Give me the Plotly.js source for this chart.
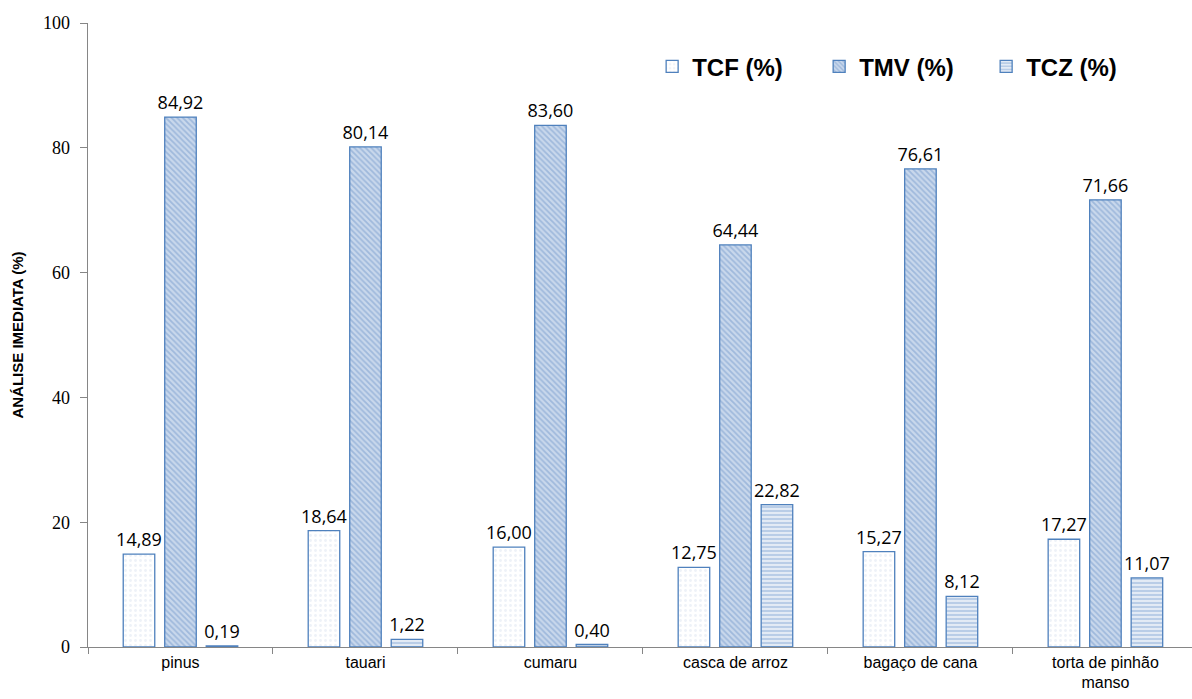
<!DOCTYPE html>
<html>
<head>
<meta charset="utf-8">
<script src="https://cdn.plot.ly/plotly-3.0.1.min.js"></script>
<style>body{margin:0;padding:0;background:#fff;}#chart{width:1192px;height:699px;}</style>
</head>
<body>
<div id="chart"></div>
<script>
const categories = ["pinus", "tauari", "cumaru", "casca de arroz", "bagaço de cana", "torta de pinhão<br>manso"];
const tcf = [14.89, 18.64, 16.00, 12.75, 15.27, 17.27];
const tmv = [84.92, 80.14, 83.60, 64.44, 76.61, 71.66];
const tcz = [0.19, 1.22, 0.40, 22.82, 8.12, 11.07];
const seriesNames = ["TCF (%)", "TMV (%)", "TCZ (%)"];

const border = '#4f81bd';
const labelFont = {family: 'Open Sans, Liberation Sans, sans-serif', size: 18, color: '#000'};

function mk(name, y, pattern, color) {
  return {
    type: 'bar', name: name, x: categories, y: y,
    marker: {color: color, line: {color: border, width: 1.3}, pattern: pattern},
    texttemplate: '%{y:.2f}', textposition: 'outside', textfont: labelFont,
    constraintext: 'none', cliponaxis: false, hoverinfo: 'skip'
  };
}

const data = [
  mk(seriesNames[0], tcf, {shape: '.', bgcolor: '#ffffff', fgcolor: '#eef2f8', size: 5, solidity: 0.25}, '#ffffff'),
  mk(seriesNames[1], tmv, {shape: '\\', bgcolor: '#c9d8ec', fgcolor: '#9fb9dc', size: 4, solidity: 0.45}, '#c9d8ec'),
  mk(seriesNames[2], tcz, {shape: '-', bgcolor: '#b9cde7', fgcolor: '#ffffff', size: 4, solidity: 0.3}, '#b9cde7')
];

const layout = {
  width: 1192, height: 699,
  margin: {l: 88, r: 0, t: 23, b: 52, autoexpand: false},
  paper_bgcolor: '#fff', plot_bgcolor: '#fff',
  separators: ',.',
  barmode: 'group', bargap: 0.327, bargroupgap: 0.24,
  showlegend: true,
  legend: {
    orientation: 'h', x: 0.511, y: 0.93, xanchor: 'left', yanchor: 'middle',
    font: {family: 'Liberation Sans, Arial, sans-serif', size: 24, color: '#000', weight: 'bold'},
    entrywidth: 122, entrywidthmode: 'pixels', itemwidth: 30, tracegroupgap: 0, bgcolor: 'rgba(0,0,0,0)'
  },
  xaxis: {
    type: 'category', range: [-0.5, 5.468],
    showline: true, linecolor: '#868686', linewidth: 1.3,
    ticks: 'outside', tickson: 'boundaries', ticklen: 6, tickcolor: '#868686',
    tickfont: {family: 'Liberation Sans, Arial, sans-serif', size: 16, color: '#000'},
    showgrid: false, zeroline: false, fixedrange: true, automargin: false
  },
  yaxis: {
    range: [0, 100], tickvals: [0, 20, 40, 60, 80, 100],
    showline: true, linecolor: '#868686', linewidth: 1.3,
    ticks: 'outside', ticklen: 7, tickcolor: '#868686', ticklabelstandoff: 6,
    tickfont: {family: 'Liberation Serif, Times New Roman, serif', size: 18, color: '#000'},
    showgrid: false, zeroline: false, automargin: false,
    title: {text: 'ANÁLISE IMEDIATA (%)', font: {family: 'Liberation Sans, Arial, sans-serif', size: 15, color: '#000', weight: 'bold'}, standoff: 15}
  }
};

Plotly.newPlot('chart', data, layout, {displayModeBar: false, staticPlot: true});
</script>
</body>
</html>
